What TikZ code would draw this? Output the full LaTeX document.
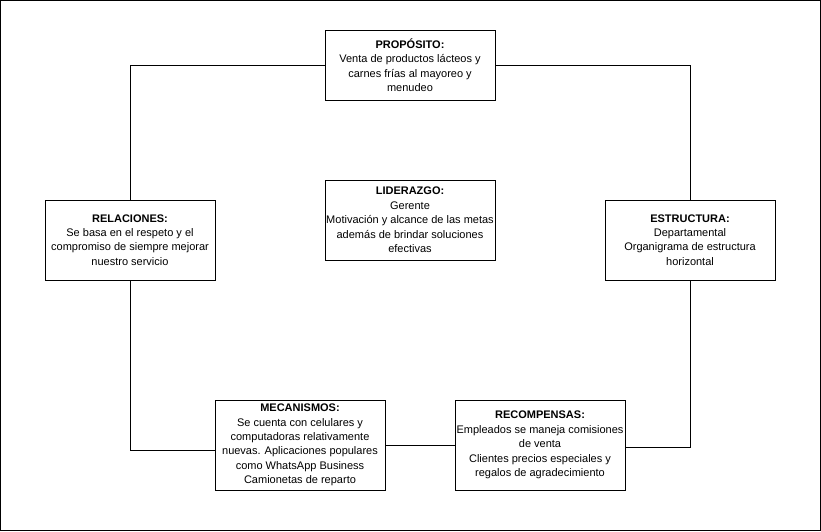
\documentclass[tikz,border=0pt]{standalone}
\usepackage{fontspec}
\setmainfont{Liberation Sans}
\begin{document}
\begin{tikzpicture}[x=1pt,y=-1pt,
  box/.style={draw=black, line width=1pt, fill=white, align=center, inner sep=0pt,
    minimum width=170pt, font=\fontsize{11}{14.4}\selectfont},
  conn/.style={draw=black, line width=1pt}]
\draw[line width=1pt] (0.5,0.5) rectangle (820.5,530.5);
\useasboundingbox (0,0) rectangle (821,531);
\node[box, minimum height=70pt] (prop) at (410,65) {\textbf{PROPÓSITO:}\\Venta de productos lácteos y\\carnes frías al mayoreo y\\menudeo};
\node[box, minimum height=80pt] (lid) at (410,220) {\textbf{LIDERAZGO:}\\Gerente\\Motivación y alcance de las metas\\además de brindar soluciones\\efectivas};
\node[box, minimum height=80pt] (rel) at (130,240) {\textbf{RELACIONES:}\\Se basa en el respeto y el\\compromiso de siempre mejorar\\nuestro servicio};
\node[box, minimum height=80pt] (est) at (690,240) {\textbf{ESTRUCTURA:}\\Departamental\\Organigrama de estructura\\horizontal};
\node[box, minimum height=90pt] (mec) at (300,445) {\textbf{MECANISMOS:}\\Se cuenta con celulares y\\computadoras relativamente\\nuevas. Aplicaciones populares\\como WhatsApp Business\\Camionetas de reparto};
\node[box, minimum height=90pt] (rec) at (540,445) {\textbf{RECOMPENSAS:}\\Empleados se maneja comisiones\\de venta\\Clientes precios especiales y\\regalos de agradecimiento};
\draw[conn] (prop.west) -| (rel.north);
\draw[conn] (prop.east) -| (est.north);
\draw[conn] (rel.south) |- ([yshift=-5pt]mec.west);
\draw[conn] (mec.east) -- (rec.west);
\draw[conn] ([yshift=-2pt]rec.east) -| (est.south);
\end{tikzpicture}
\end{document}
